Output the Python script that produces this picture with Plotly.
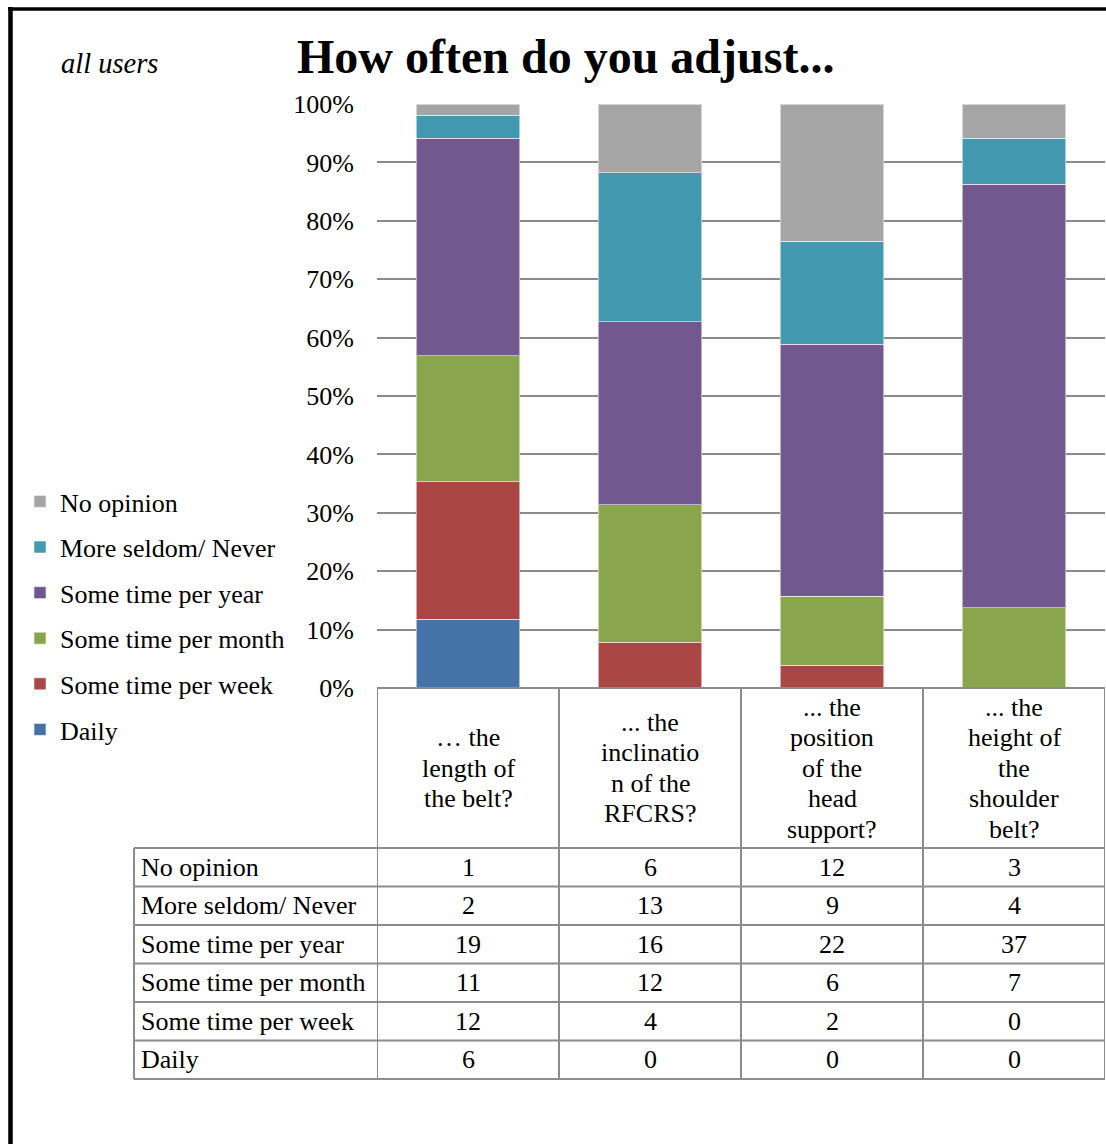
import plotly.graph_objects as go

# ---- data ----
categories = ["… the<br>length of<br>the belt?",
              "... the<br>inclinatio<br>n of the<br>RFCRS?",
              "... the<br>position<br>of the<br>head<br>support?",
              "... the<br>height of<br>the<br>shoulder<br>belt?"]
series_names = ["Daily", "Some time per week", "Some time per month",
                "Some time per year", "More seldom/ Never", "No opinion"]
daily = [6, 0, 0, 0]
per_week = [12, 4, 2, 0]
per_month = [11, 12, 6, 7]
per_year = [19, 16, 22, 37]
seldom_never = [2, 13, 9, 4]
no_opinion = [1, 6, 12, 3]
series_values = [daily, per_week, per_month, per_year, seldom_never, no_opinion]
colors = ["#4573A7", "#AA4643", "#89A54E", "#71588F", "#4198AF", "#A5A5A5"]
y_ticks = list(range(0, 101, 10))
y_tick_labels = [f"{v}%" for v in y_ticks]

W, H = 1106, 1144
def px(x): return x / W
def py(y): return 1 - y / H

FONT = "Liberation Serif, Times New Roman, serif"
GRID = "#8A8A8A"
TBL = "#8C8C8C"

fig = go.Figure()
xs = list(range(len(categories)))
n_series = len(series_names)
for i, (name, vals, col) in enumerate(zip(series_names, series_values, colors)):
    fig.add_trace(go.Bar(
        x=xs, y=vals, name=name, legendgroup=name, legendrank=n_series - i,
        marker=dict(color=col, line=dict(color="rgba(255,255,255,0.55)", width=1)),
    ))

fig.update_layout(
    width=W, height=H, margin=dict(l=0, r=0, t=0, b=0, autoexpand=False),
    paper_bgcolor="white", plot_bgcolor="white",
    barmode="stack", barnorm="percent", bargap=0.43,
    font=dict(family=FONT, size=26, color="black"),
    showlegend=True,
    legend=dict(x=px(20), y=py(478), xanchor="left", yanchor="top",
                traceorder="grouped", tracegroupgap=8.8,
                bgcolor="rgba(0,0,0,0)", font=dict(family=FONT, size=26),
                itemclick=False),
    xaxis=dict(domain=[px(377), px(1105)], range=[-0.5, len(categories) - 0.5],
               showticklabels=False, showgrid=False, zeroline=False, showline=False,
               automargin=False),
    yaxis=dict(domain=[py(688), py(104)], range=[0, 100], tickmode="array",
               tickvals=y_ticks, ticktext=y_tick_labels,
               showgrid=True, gridcolor=GRID, gridwidth=1.6, automargin=False,
               zeroline=False, showline=False, ticks="", ticklabelstandoff=22,
               tickfont=dict(family=FONT, size=26)),
)

shapes = []
# outer frame (top & left)
shapes.append(dict(type="line", xref="paper", yref="paper", x0=px(8), x1=1, y0=py(9), y1=py(9),
                   line=dict(color="black", width=3.5)))
shapes.append(dict(type="line", xref="paper", yref="paper", x0=px(10.5), x1=px(10.5), y0=py(7), y1=0,
                   line=dict(color="black", width=4.5)))

# table geometry
header_top, header_bot = 688, 848
n_rows = len(series_names)
row_h = (1079 - 848) / n_rows
row_lines = [header_bot + k * row_h for k in range(n_rows + 1)]
label_left = 134

for k in range(len(categories) + 1):
    shapes.append(dict(type="line", xref="x", yref="paper", x0=k - 0.5, x1=k - 0.5,
                       y0=py(header_top), y1=py(row_lines[-1]), line=dict(color=TBL, width=2)))
shapes.append(dict(type="line", xref="paper", yref="paper", x0=px(label_left), x1=px(label_left),
                   y0=py(header_bot), y1=py(row_lines[-1]), line=dict(color=TBL, width=2)))
shapes.append(dict(type="line", xref="x", yref="paper", x0=-0.5, x1=len(categories) - 0.5,
                   y0=py(header_top), y1=py(header_top), line=dict(color=TBL, width=2)))
for yl in row_lines:
    shapes.append(dict(type="line", xref="paper", yref="paper", x0=px(label_left), x1=px(1105),
                       y0=py(yl), y1=py(yl), line=dict(color=TBL, width=2)))

annotations = []
annotations.append(dict(text="<b>How often do you adjust...</b>", x=px(565), y=py(56),
                        xref="paper", yref="paper", showarrow=False, xanchor="center", yanchor="middle",
                        font=dict(family=FONT, size=48, color="black")))
annotations.append(dict(text="<i>all users</i>", x=px(59), y=py(63),
                        xref="paper", yref="paper", showarrow=False, xanchor="left", yanchor="middle",
                        font=dict(family=FONT, size=28.5, color="black")))

# header cells (one annotation per line for tight line spacing)
line_gap = 30.5
hc = (header_top + header_bot) / 2
for ci, cat in enumerate(categories):
    lines = cat.split("<br>")
    n = len(lines)
    for li, t in enumerate(lines):
        yc = hc + (li - (n - 1) / 2) * line_gap
        annotations.append(dict(text=t, x=ci, y=py(yc), xref="x", yref="paper", showarrow=False,
                                xanchor="center", yanchor="middle", font=dict(family=FONT, size=26)))

# data rows (top row = last series)
for ri, si in enumerate(reversed(range(n_rows))):
    yc = (row_lines[ri] + row_lines[ri + 1]) / 2
    annotations.append(dict(text=series_names[si], x=px(139), y=py(yc), xref="paper", yref="paper",
                            showarrow=False, xanchor="left", yanchor="middle",
                            font=dict(family=FONT, size=26)))
    for ci, v in enumerate(series_values[si]):
        annotations.append(dict(text=str(v), x=ci, y=py(yc), xref="x", yref="paper",
                                showarrow=False, xanchor="center", yanchor="middle",
                                font=dict(family=FONT, size=26)))

fig.update_layout(shapes=shapes, annotations=annotations)
fig.write_html("out.html")
